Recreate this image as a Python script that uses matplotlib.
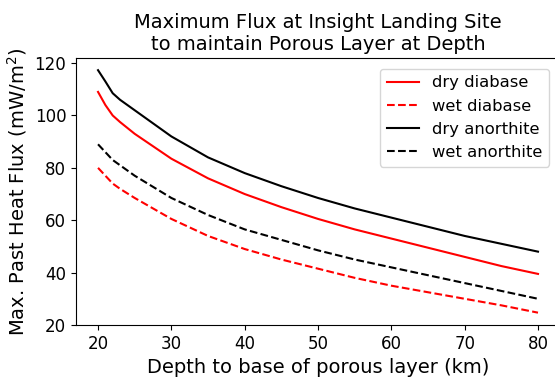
import numpy as np
import matplotlib
matplotlib.use("Agg")
import matplotlib.pyplot as plt

# depth to base of porous layer (km)
depth = [20, 21, 22, 23, 25, 30, 35, 40, 45, 50, 55, 60, 65, 70, 75, 80]

# max past heat flux (mW/m^2)
dry_diabase = [109, 104, 100, 97.5, 93, 83.5, 76, 70, 65, 60.5, 56.5, 53, 49.5, 46, 42.5, 39.5]
wet_diabase = [80, 77, 74, 72, 68.5, 60.5, 54, 49, 45, 41.5, 38, 35, 32.5, 30, 27.5, 24.7]
dry_anorthite = [117.3, 113, 108.5, 106, 102, 92, 84, 78, 73, 68.5, 64.5, 61, 57.5, 54, 51, 48]
wet_anorthite = [89, 86, 83, 81, 77, 68.5, 62, 56.5, 52.5, 48.5, 45, 42, 39, 36, 33, 30]

fig = plt.figure(figsize=(5.55, 3.77), dpi=100)
ax = fig.add_axes([0.137, 0.138, 0.872, 0.708])

ax.plot(depth, dry_diabase, 'r-', label='dry diabase')
ax.plot(depth, wet_diabase, 'r--', label='wet diabase')
ax.plot(depth, dry_anorthite, 'k-', label='dry anorthite')
ax.plot(depth, wet_anorthite, 'k--', label='wet anorthite')

ax.set_xlim(17, 83)
ax.set_xticks([20, 30, 40, 50, 60, 70, 80])
ax.set_yticks([20, 40, 60, 80, 100, 120])
ax.tick_params(labelsize=12)

ax.set_xlabel('Depth to base of porous layer (km)', fontsize=14)
ax.set_ylabel('Max. Past Heat Flux (mW/m$^2$)', fontsize=14)
ax.set_title('Maximum Flux at Insight Landing Site\nto maintain Porous Layer at Depth', fontsize=14)
ax.legend(fontsize=11.8, loc='upper right', bbox_to_anchor=(0.995, 0.99))

fig.savefig('out.png', dpi=100)
